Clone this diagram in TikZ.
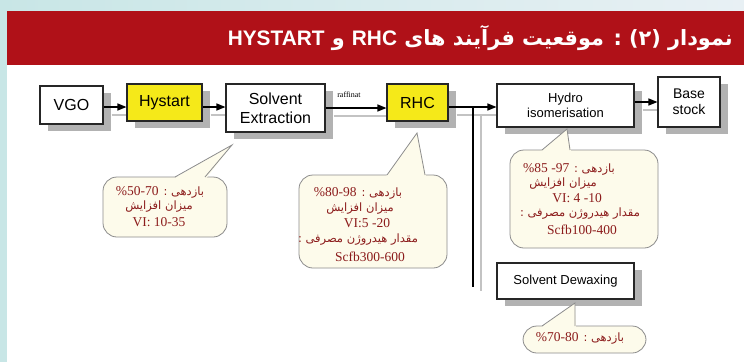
\documentclass[tikz,border=0pt]{standalone}
\usepackage{fontspec}
\usepackage{graphicx}
\setmainfont{Liberation Sans}
\newfontfamily\arabicfont[Script=Arabic]{DejaVu Sans}
\newfontfamily\latinserif{Liberation Serif}
\newfontfamily\latinsans{Liberation Sans}
\TeXXeTstate=1
\usetikzlibrary{arrows.meta,shadows,calc}
\pgfdeclarelayer{bg}
\pgfsetlayers{bg,main}
\definecolor{bgteal}{RGB}{200,230,230}
\definecolor{bgpale}{RGB}{232,240,244}
\definecolor{bannerred}{RGB}{176,17,24}
\definecolor{boxyellow}{RGB}{245,233,25}
\definecolor{shadowgray}{RGB}{178,178,178}
\definecolor{lineshadow}{RGB}{195,195,195}
\definecolor{bubblefill}{RGB}{253,251,235}
\definecolor{bubbleedge}{RGB}{140,140,140}
\definecolor{bubbletext}{RGB}{140,28,28}
\newcommand\arabtxt{\arabicfont\fontsize{11.5}{13}\selectfont}
\tikzset{
  procbox/.style={draw=black!85, line width=1.1pt, fill=white, inner sep=0pt, align=center,
    font=\latinsans\fontsize{16}{19}\selectfont,
    drop shadow={shadow xshift=8pt, shadow yshift=-7pt, fill=shadowgray, opacity=1, draw=none}},
  hl/.style={fill=boxyellow},
  flow/.style={line width=1.3pt, -{Triangle[length=9pt,width=7pt]}},
  flowshadow/.style={line width=1.4pt, draw=lineshadow},
  bubble/.style={fill=bubblefill, draw=bubbleedge, line width=0.8pt, rounded corners=14pt},
  btxt/.style={text=bubbletext, inner sep=0pt, font=\latinserif\fontsize{13.5}{15}\selectfont}
}
\begin{document}
\begin{tikzpicture}[x=1pt,y=-1pt]
\useasboundingbox (0,0) rectangle (744,362);
\begin{pgfonlayer}{bg}
\fill[bgteal] (0,0) rectangle (744,362);
\shade[left color=bgteal, right color=bgpale] (0,0) rectangle (744,11);
\fill[bannerred] (7,11) rectangle (744,65);
\fill[white] (7,65) rectangle (744,362);
\end{pgfonlayer}

% title
\node[anchor=east, text=white, inner sep=0pt, font=\arabicfont\bfseries\fontsize{21}{24}\selectfont] (title) at (733,38)
  {\resizebox{505pt}{\height}{\beginR نمودار \beginL(۲)\endL{} : موقعیت فرآیند های \beginL{\latinsans\bfseries RHC}\endL{} و \beginL{\latinsans\bfseries HYSTART}\endL\endR}};

% process boxes
\node[procbox, minimum width=63pt, minimum height=38pt] (vgo) at (71.5,105) {VGO};
\node[procbox, hl, minimum width=75pt, minimum height=37pt] (hys) at (164.5,102.5) {Hystart};
\node[procbox, minimum width=99pt, minimum height=48pt] (se) at (275.5,108) {Solvent\\Extraction};
\node[procbox, hl, minimum width=61pt, minimum height=37pt] (rhc) at (417.5,102.5) {RHC};
\node[procbox, minimum width=137pt, minimum height=43pt, font=\latinsans\fontsize{13}{14.5}\selectfont] (hydro) at (565.5,105.5) {Hydro\\isomerisation};
\node[procbox, minimum width=62pt, minimum height=50pt, font=\latinsans\fontsize{14}{16}\selectfont] (base) at (689,102) {Base\\stock};
\node[procbox, minimum width=137pt, minimum height=36pt, font=\latinsans\fontsize{13}{15}\selectfont] (sd) at (565.5,281) {Solvent Dewaxing};

% level coordinates
\coordinate (ya) at (0,107);
\coordinate (yb) at (0,108);
\coordinate (yc) at (0,102);
\coordinate (jn) at (473,107);
\coordinate (bend) at (473,287);
\coordinate (jns) at (481,115);
\coordinate (bends) at (481,291);

% connector shadows (offset copies)
\begin{pgfonlayer}{bg}
\draw[flowshadow] ($(vgo.east |- ya)+(8,8)$) -- ($(hys.west |- ya)+(8,8)$);
\draw[flowshadow] ($(hys.east |- ya)+(8,8)$) -- ($(se.west |- ya)+(8,8)$);
\draw[flowshadow] ($(se.east |- yb)+(8,8)$) -- ($(rhc.west |- yb)+(8,8)$);
\draw[flowshadow] ($(rhc.east |- ya)+(8,8)$) -- ($(hydro.west |- ya)+(8,8)$);
\draw[flowshadow] ($(hydro.east |- yc)+(8,8)$) -- ($(base.west |- yc)+(8,8)$);
\draw[flowshadow] (jns) -- (bends);
\end{pgfonlayer}

% connectors
\draw[flow] (vgo.east |- ya) -- (hys.west |- ya);
\draw[flow] (hys.east |- ya) -- (se.west |- ya);
\draw[flow] (se.east |- yb) -- (rhc.west |- yb);
\draw[flow] (rhc.east |- ya) -- (hydro.west |- ya);
\draw[flow] (hydro.east |- yc) -- (base.west |- yc);
\draw[line width=1.3pt] (jn) -- (bend);
\node[inner sep=0pt, font=\latinserif\fontsize{8}{9}\selectfont] (raff) at (349,95) {raffinat};

% bubble 1
\path[bubble] (103,177) rectangle (227,237);
\fill[bubblefill] (174,178.5) -- (232,145) -- (206,178.5) -- cycle;
\draw[bubbleedge, line width=0.8pt] (175,177) -- (232,145) -- (205,177);
\node[btxt] (b1a) at (160,192) {\beginR\arabtxt بازدهی : \beginL{\latinserif\fontsize{13.5}{15}\selectfont\%50-70}\endL\endR};
\node[btxt] (b1b) at (159,207) {\arabtxt\beginR میزان افزایش\endR};
\node[btxt] (b1c) at (159,222) {VI: 10-35};

% bubble 2
\path[bubble] (299,175) rectangle (447,268);
\fill[bubblefill] (386,176.5) -- (417,133) -- (426,176.5) -- cycle;
\draw[bubbleedge, line width=0.8pt] (387,175) -- (417,133) -- (425,175);
\node[btxt] (b2a) at (358,193) {\beginR\arabtxt بازدهی : \beginL{\latinserif\fontsize{13.5}{15}\selectfont\%80-98}\endL\endR};
\node[btxt] (b2b) at (360,209) {\arabtxt\beginR میزان افزایش\endR};
\node[btxt] (b2c) at (367,223) {VI:5 -20};
\node[btxt] (b2d) at (358,240) {\arabtxt\beginR مقدار هیدروژن مصرفی :\endR};
\node[btxt] (b2e) at (370,257) {Scfb300-600};

% bubble 3
\path[bubble] (510,150) rectangle (658,248);
\fill[bubblefill] (541,151.5) -- (567,129) -- (571,151.5) -- cycle;
\draw[bubbleedge, line width=0.8pt] (542,150) -- (567,129) -- (570,150);
\node[btxt] (b3a) at (569,169) {\beginR\arabtxt بازدهی : \beginL{\latinserif\fontsize{13.5}{15}\selectfont\%85 -97}\endL\endR};
\node[btxt] (b3b) at (563,184) {\arabtxt\beginR میزان افزایش\endR};
\node[btxt] (b3c) at (577,198) {VI: 4 -10};
\node[btxt] (b3d) at (580,214) {\arabtxt\beginR مقدار هیدروژن مصرفی :\endR};
\node[btxt] (b3e) at (582,230) {Scfb100-400};

% bubble 4
\path[bubble] (523,326) rectangle (646,353);
\fill[bubblefill] (541,327.5) -- (575,303) -- (576,327.5) -- cycle;
\draw[bubbleedge, line width=0.8pt] (542,326) -- (575,303) -- (575,326);
\node[btxt] (b4a) at (580,338) {\beginR\arabtxt بازدهی : \beginL{\latinserif\fontsize{13.5}{15}\selectfont\%70-80}\endL\endR};
\end{tikzpicture}
\end{document}
